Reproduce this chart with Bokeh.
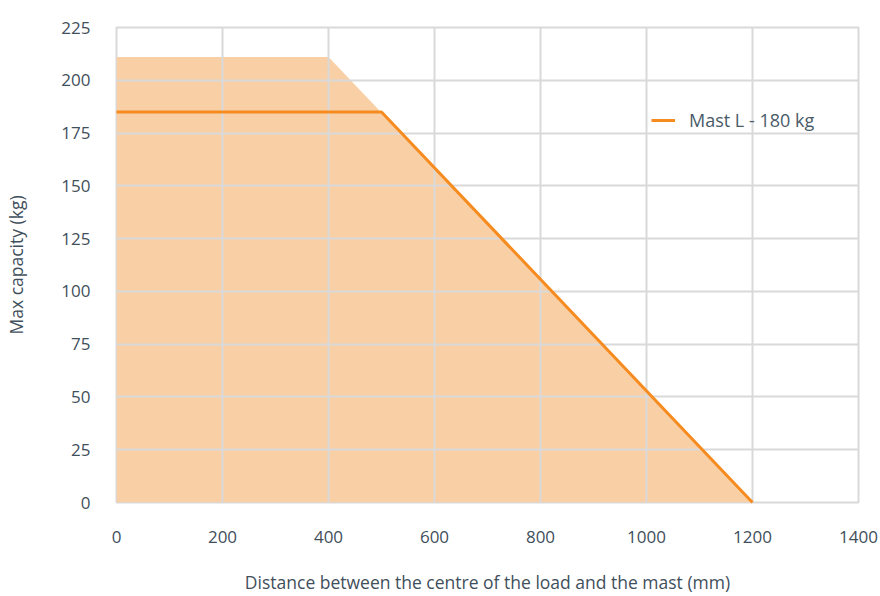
from bokeh.plotting import figure
from bokeh.models import FixedTicker, Range1d, Legend, LegendItem
from bokeh.embed import file_html
from bokeh.resources import INLINE

# Data
distance_mm = [0, 500, 1200]
mast_l_capacity = [185, 185, 0]
envelope_x = [0, 0, 400, 1200]
envelope_y = [0, 211, 211, 0]
x_ticks = [0, 200, 400, 600, 800, 1000, 1200, 1400]
y_ticks = [0, 25, 50, 75, 100, 125, 150, 175, 200, 225]
series_name = "Mast L - 180 kg"

FONT = "Open Sans"
TEXT = "#3f4f5b"
GRID = "#d9d9d9"
ORANGE = "#f68b1f"
FILL = "#f9cfa5"

p = figure(width=880, height=596, output_backend="svg", toolbar_location=None,
           x_range=Range1d(0, 1400), y_range=Range1d(0, 225),
           min_border_left=116, min_border_right=22, min_border_top=27,
           min_border_bottom=93)

p.patch(envelope_x, envelope_y, fill_color=FILL, line_color=None)
line = p.line(distance_mm, mast_l_capacity, line_color=ORANGE, line_width=3, level="overlay")

p.xaxis.ticker = FixedTicker(ticks=x_ticks)
p.yaxis.ticker = FixedTicker(ticks=y_ticks)

for g in (p.xgrid, p.ygrid):
    g.grid_line_color = GRID
    g.grid_line_width = 2
    g.level = "guide"

p.outline_line_color = GRID
p.outline_line_width = 2

for ax in (p.xaxis, p.yaxis):
    ax.axis_line_color = None
    ax.major_tick_line_color = None
    ax.minor_tick_line_color = None
    ax.major_label_text_font = FONT
    ax.major_label_text_font_size = "17px"
    ax.major_label_text_color = TEXT
    ax.axis_label_text_font = FONT
    ax.axis_label_text_font_size = "17.5px"
    ax.axis_label_text_font_style = "normal"
    ax.axis_label_text_color = TEXT

p.yaxis.major_label_text_baseline = "alphabetic"

p.xaxis.axis_label = "Distance between the centre of the load and the mast (mm)"
p.yaxis.axis_label = "Max capacity (kg)"
p.xaxis.major_label_standoff = 22
p.yaxis.major_label_standoff = 20
p.xaxis.axis_label_standoff = 24
p.yaxis.axis_label_standoff = 30

legend = Legend(items=[LegendItem(label=series_name, renderers=[line])],
                location=(535, 370), border_line_color=None,
                background_fill_alpha=0, padding=0, margin=0,
                glyph_width=24, glyph_height=20, label_standoff=14,
                label_text_font=FONT, label_text_font_size="18px",
                label_text_color="#4a5b68")
p.add_layout(legend, "center")

open("out.html", "w").write(file_html(p, INLINE))
